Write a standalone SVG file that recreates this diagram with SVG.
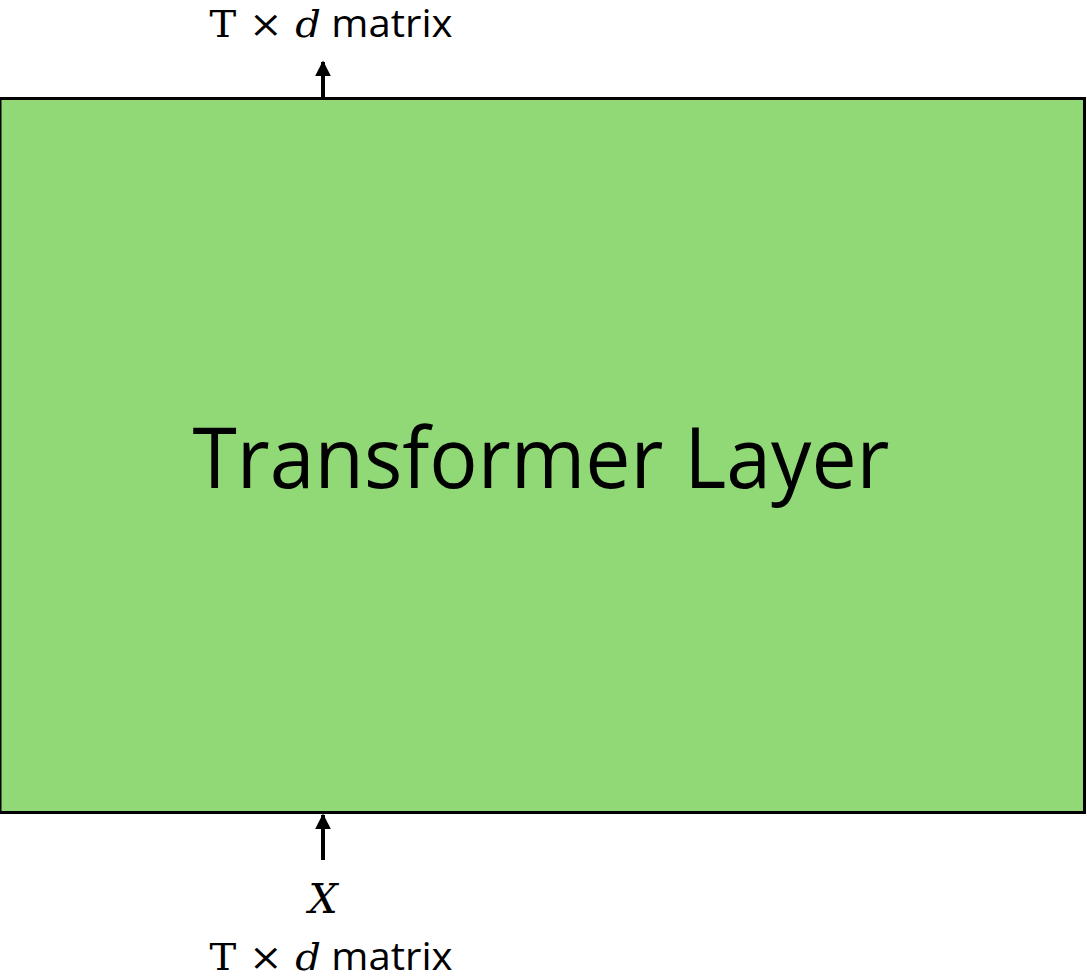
<svg xmlns="http://www.w3.org/2000/svg" width="1087" height="980" viewBox="0 0 1087 980">
<defs>
<marker id="ah" viewBox="0 0 10 10" refX="9" refY="5" markerWidth="4" markerHeight="4" orient="auto" markerUnits="strokeWidth">
<path d="M0,0 L10,5 L0,10 z" fill="#000"/>
</marker>
<style>
.serif{font-family:"DejaVu Serif","Liberation Serif",serif;}
.sans{font-family:"Open Sans","Liberation Sans",sans-serif;}
.lbl{font-size:38px;fill:#000;}
</style>
</defs>
<rect width="1087" height="980" fill="#fff"/>
<g id="transformer">
<rect x="0" y="98.5" width="1084.5" height="714" fill="#91D977" stroke="#000" stroke-width="3"/>
<text x="541" y="488" text-anchor="middle" class="sans" font-size="84" textLength="697" lengthAdjust="spacingAndGlyphs">Transformer Layer</text>
</g>
<g id="connectors" stroke="#000" stroke-width="4" fill="none">
<line x1="323" y1="97" x2="323" y2="62" marker-end="url(#ah)"/>
<line x1="323" y1="860" x2="323" y2="815" marker-end="url(#ah)"/>
</g>
<g id="output-label">
<text x="331" y="37" text-anchor="middle" class="lbl" textLength="243" lengthAdjust="spacingAndGlyphs"><tspan class="serif">T × </tspan><tspan class="serif" font-style="italic">d</tspan><tspan class="sans"> matrix</tspan></text>
</g>
<g id="input-label">
<text x="323" y="913" text-anchor="middle" class="serif" font-size="41" font-style="italic">X</text>
<text x="331" y="970" text-anchor="middle" class="lbl" textLength="243" lengthAdjust="spacingAndGlyphs"><tspan class="serif">T × </tspan><tspan class="serif" font-style="italic">d</tspan><tspan class="sans"> matrix</tspan></text>
</g>
</svg>
